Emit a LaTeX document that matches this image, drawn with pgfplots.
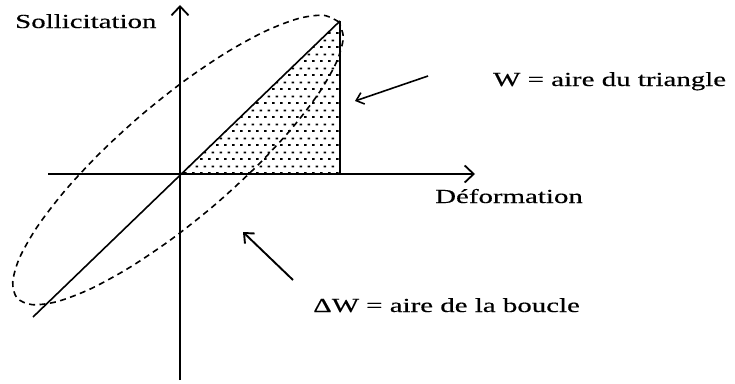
\documentclass[border=0pt]{standalone}
\usepackage{pgfplots}
\pgfplotsset{compat=1.18}
\usepackage{fontspec}
\setmainfont{Liberation Serif}
\newfontfamily\lab[FakeStretch=1.45, FakeBold=0.4]{Liberation Serif}
\newcommand\labfont{\lab\fontsize{20}{23}\selectfont}
\usetikzlibrary{arrows.meta,patterns}
\pgfdeclarepatternformonly{sdots}{\pgfpointorigin}{\pgfpoint{8bp}{14bp}}{\pgfpoint{8bp}{14bp}}{%
  \pgfpathrectangle{\pgfpoint{0bp}{0bp}}{\pgfpoint{2.8bp}{2bp}}%
  \pgfpathrectangle{\pgfpoint{4bp}{7bp}}{\pgfpoint{2.8bp}{2bp}}%
  \pgfusepath{fill}%
}
\begin{document}
\begin{tikzpicture}
\begin{axis}[x=1bp, y=1bp, xmin=-180, xmax=555, ymin=-209, ymax=174,
  axis lines=none, clip=false, scale only axis]
% canvas
\addplot[draw=none] coordinates {(-180,-209) (555,174)};
% dotted triangle W
\addplot[draw=none, pattern=sdots] coordinates {(0,0) (160,153) (160,0)} -- cycle;
% axes
\addplot[line width=2.4bp, -{Straight Barb[length=9bp, width=17bp, line width=1.8bp]}] coordinates {(-132,0) (295,0)};
\addplot[line width=2.4bp, -{Straight Barb[length=9bp, width=17bp, line width=1.8bp]}] coordinates {(0,-206) (0,169)};
% loading line and triangle side
\addplot[line width=1.6bp] coordinates {(-147,-143) (160,153)};
\addplot[line width=1.7bp] coordinates {(160,153) (160,0)};
% hysteresis loop
\addplot[line width=1.6bp, dash pattern=on 6bp off 4.5bp, smooth] coordinates {
(158.97,151.97) (143.71,158.67) (118.53,155.50) (85.13,142.70) (45.80,121.13)
(3.20,92.25) (-39.75,58.04) (-80.12,20.83) (-115.18,-16.85) (-142.51,-52.42)
(-160.28,-83.46) (-167.25,-107.87) (-162.97,-123.97) (-147.71,-130.67)
(-122.53,-127.50) (-89.13,-114.70) (-49.80,-93.13) (-7.20,-64.25)
(35.75,-30.04) (76.12,7.17) (111.18,44.85) (138.51,80.42) (156.28,111.46)
(163.25,135.87) (158.97,151.97)};
% pointer arrows
\addplot[line width=1.6bp, -{Straight Barb[length=7bp, width=12bp, line width=1.6bp]}] coordinates {(248,98) (175,73)};
\addplot[line width=1.9bp, -{Straight Barb[length=8bp, width=14bp, line width=1.9bp]}] coordinates {(113,-106) (63,-58)};
% labels
\node[anchor=base west, inner sep=0pt, font=\labfont] at (axis cs:-165,146) {Sollicitation};
\node[anchor=base west, inner sep=0pt, font=\labfont] at (axis cs:255,-29) {Déformation};
\node[anchor=base west, inner sep=0pt, font=\labfont] at (axis cs:313,88) {W = aire du triangle};
\node[anchor=base west, inner sep=0pt, font=\labfont] at (axis cs:133,-138) {ΔW = aire de la boucle};
\end{axis}
\end{tikzpicture}
\end{document}
